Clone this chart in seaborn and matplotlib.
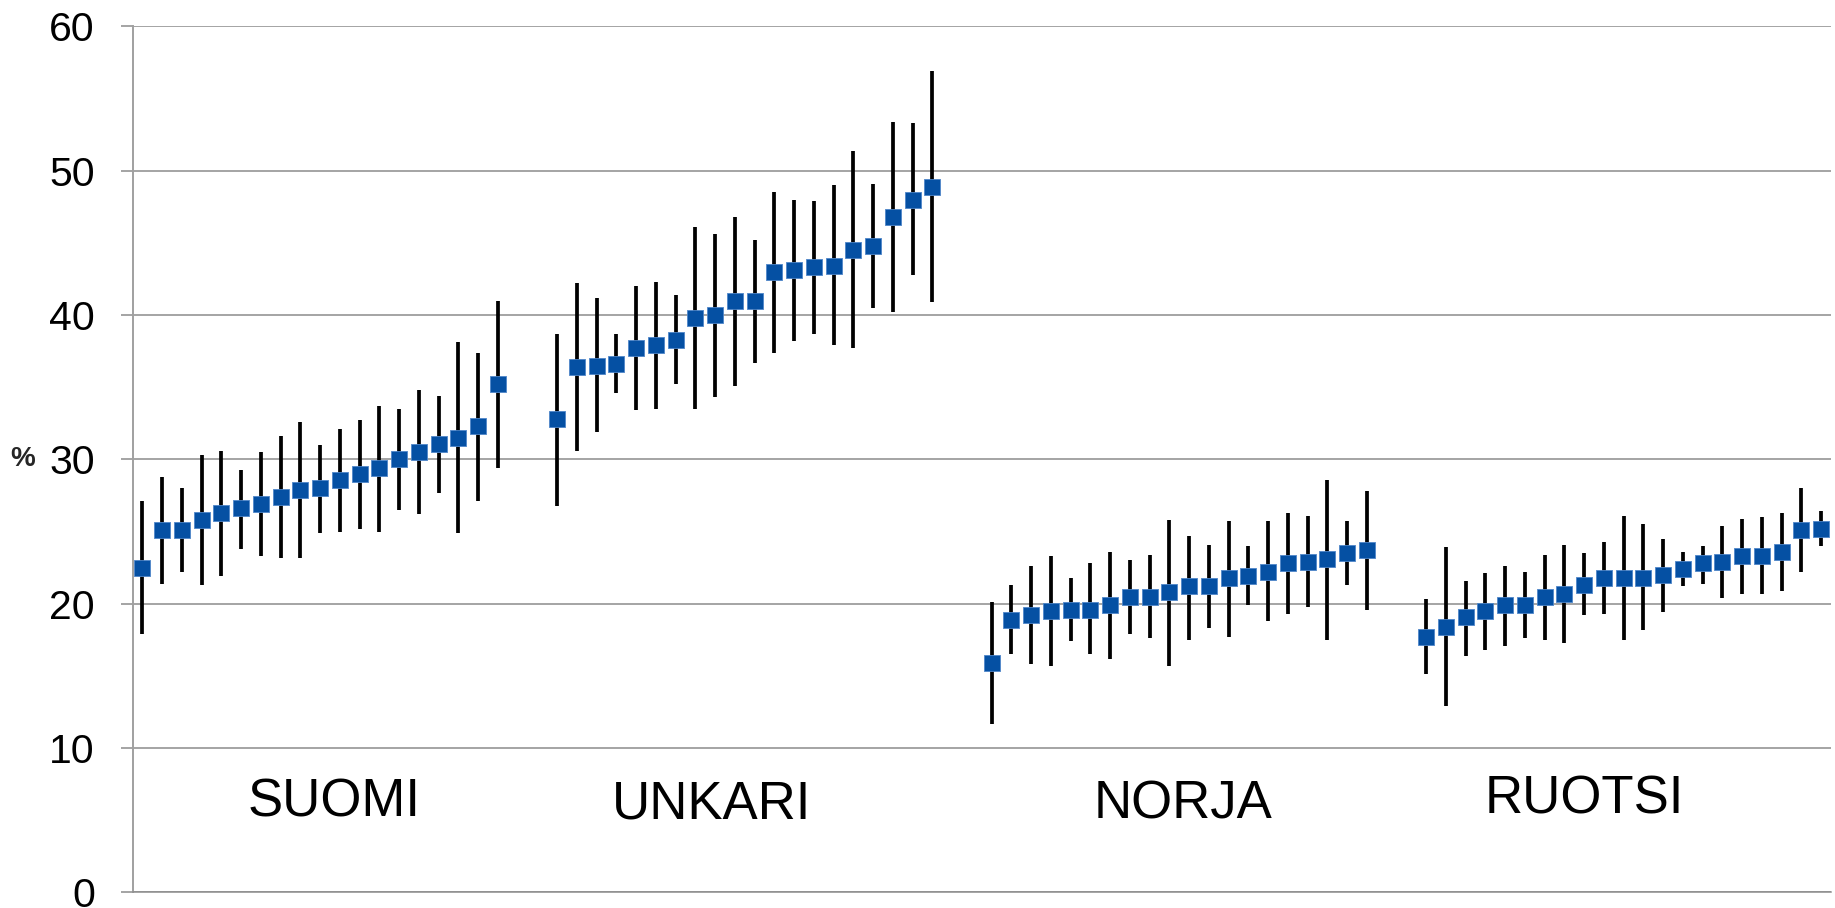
import numpy as np
import pandas as pd
import seaborn as sns
import matplotlib
matplotlib.use("Agg")
import matplotlib.pyplot as plt

# Country groups, in drawing order
countries = ["SUOMI", "UNKARI", "NORJA", "RUOTSI"]

# Point estimates (%) with lower / upper interval limits, per country
suomi_val = [22.5, 25.1, 25.1, 25.8, 26.3, 26.6, 26.9, 27.4, 27.9, 28.0,
             28.6, 29.0, 29.4, 30.0, 30.5, 31.1, 31.5, 32.3, 35.2]
suomi_low = [17.9, 21.4, 22.2, 21.3, 21.9, 23.8, 23.3, 23.2, 23.2, 24.9,
             25.0, 25.2, 25.0, 26.5, 26.2, 27.7, 24.9, 27.1, 29.4]
suomi_high = [27.1, 28.8, 28.0, 30.3, 30.6, 29.3, 30.5, 31.6, 32.6, 31.0,
              32.1, 32.7, 33.7, 33.5, 34.8, 34.4, 38.1, 37.4, 41.0]

unkari_val = [32.8, 36.4, 36.5, 36.6, 37.7, 37.9, 38.3, 39.8, 40.0, 41.0,
              41.0, 43.0, 43.1, 43.3, 43.4, 44.5, 44.8, 46.8, 48.0, 48.9]
unkari_low = [26.8, 30.6, 31.9, 34.6, 33.4, 33.5, 35.2, 33.5, 34.3, 35.1,
              36.7, 37.4, 38.2, 38.7, 37.9, 37.7, 40.5, 40.2, 42.8, 40.9]
unkari_high = [38.7, 42.2, 41.2, 38.7, 42.0, 42.3, 41.4, 46.1, 45.6, 46.8,
               45.2, 48.5, 48.0, 47.9, 49.0, 51.4, 49.1, 53.4, 53.3, 56.9]

norja_val = [15.9, 18.9, 19.2, 19.5, 19.6, 19.6, 19.9, 20.5, 20.5, 20.8,
             21.2, 21.2, 21.8, 21.9, 22.2, 22.8, 22.9, 23.1, 23.5, 23.7]
norja_low = [11.7, 16.5, 15.8, 15.7, 17.4, 16.5, 16.2, 17.9, 17.6, 15.7,
             17.5, 18.3, 17.7, 19.9, 18.8, 19.3, 19.8, 17.5, 21.3, 19.6]
norja_high = [20.1, 21.3, 22.6, 23.3, 21.8, 22.8, 23.6, 23.0, 23.4, 25.8,
              24.7, 24.1, 25.7, 24.0, 25.7, 26.3, 26.1, 28.6, 25.7, 27.8]

ruotsi_val = [17.7, 18.4, 19.1, 19.5, 19.9, 19.9, 20.5, 20.7, 21.3, 21.8,
              21.8, 21.8, 22.0, 22.4, 22.8, 22.9, 23.3, 23.3, 23.6, 25.1, 25.2]
ruotsi_low = [15.1, 12.9, 16.4, 16.8, 17.1, 17.6, 17.5, 17.3, 19.2, 19.3,
              17.5, 18.2, 19.4, 21.2, 21.4, 20.4, 20.7, 20.7, 20.9, 22.2, 24.0]
ruotsi_high = [20.3, 23.9, 21.6, 22.1, 22.6, 22.2, 23.4, 24.1, 23.5, 24.3,
               26.1, 25.5, 24.5, 23.6, 24.0, 25.4, 25.9, 26.0, 26.3, 28.0, 26.4]

y_ticks = [0, 10, 20, 30, 40, 50, 60]

groups = {
    "SUOMI": (suomi_val, suomi_low, suomi_high),
    "UNKARI": (unkari_val, unkari_low, unkari_high),
    "NORJA": (norja_val, norja_low, norja_high),
    "RUOTSI": (ruotsi_val, ruotsi_low, ruotsi_high),
}

# Lay the groups out on one categorical axis, two empty slots between groups
GAP = 2
rows = []
slot = 0
for name in countries:
    vals, lows, highs = groups[name]
    for v, lo, hi in zip(vals, lows, highs):
        rows.append({"country": name, "pos": slot, "value": v, "low": lo, "high": hi})
        slot += 1
    slot += GAP
df = pd.DataFrame(rows)
n_slots = int(df["pos"].max()) + 1

sns.set_theme(style="white")
plt.rcParams["font.family"] = ["Liberation Sans", "DejaVu Sans"]

W, H = 1835, 908
fig = plt.figure(figsize=(W / 100, H / 100), dpi=100)
left_px, right_px, top_px, bottom_px = 132.5, 1831, 26.4, 892.4
ax = fig.add_axes([left_px / W, (H - bottom_px) / H,
                   (right_px - left_px) / W, (bottom_px - top_px) / H])

grid_col = "#8c8c8c"

# Interval whiskers
ax.vlines(df["pos"], df["low"], df["high"], colors="black", linewidth=2.7, zorder=2)

# Point estimates
sns.scatterplot(data=df, x="pos", y="value", marker="s", s=125,
                color="#0550a3", edgecolor="#4f86c9", linewidth=0.6,
                zorder=3, ax=ax, legend=False)

ax.set_xlim(-0.5, n_slots - 0.5)
ax.set_ylim(y_ticks[0], y_ticks[-1])
ax.set_yticks(y_ticks)
ax.set_xticks([])
ax.set_xlabel("")

ax.yaxis.grid(True, color=grid_col, linewidth=1.1)
ax.set_axisbelow(True)
for side in ["top", "right"]:
    ax.spines[side].set_visible(False)
ax.spines["left"].set_color("#a0a0a0")
ax.spines["left"].set_linewidth(1.4)
ax.spines["bottom"].set_color(grid_col)
ax.spines["bottom"].set_linewidth(1.1)

ax.tick_params(axis="y", which="major", direction="out", length=8.6, width=1.1,
               color=grid_col, pad=18.5, labelsize=29.5, labelcolor="black", left=True)

ax.set_ylabel("%", rotation=0, fontsize=20, fontweight="bold", ha="right", va="center")
ax.yaxis.set_label_coords(-(left_px - 35) / (right_px - left_px), 0.5)

# Country names inside the plot area
label_x = {"SUOMI": 9.7, "UNKARI": 28.8, "NORJA": 52.7, "RUOTSI": 73.0}
label_y = {"SUOMI": 5.25, "UNKARI": 5.15, "NORJA": 5.15, "RUOTSI": 5.45}
for name in countries:
    ax.text(label_x[name], label_y[name], name, ha="center", va="baseline",
            fontsize=38, color="black")

fig.savefig("out.png", dpi=100)
